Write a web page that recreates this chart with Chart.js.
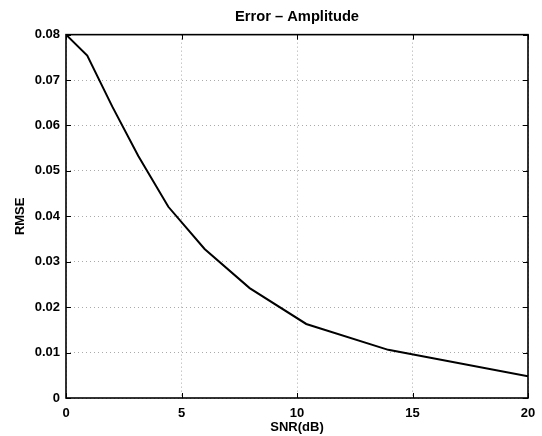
<!DOCTYPE html>
<html>
<head>
<meta charset="utf-8">
<script src="https://cdn.jsdelivr.net/npm/chart.js@4/dist/chart.umd.min.js"></script>
<style>
  html, body { margin: 0; padding: 0; background: #fff; }
  canvas { display: block; }
</style>
</head>
<body>
<canvas id="c" width="542" height="436"></canvas>
<script>
const snrDb = [0, 0.92, 2, 3.13, 4.43, 6, 7.95, 10.4, 13.95, 20];
const rmse = [0.0800, 0.0754, 0.0642, 0.0533, 0.0421, 0.0328, 0.0242, 0.0163, 0.0106, 0.0048];
const xTicks = [0, 5, 10, 15, 20];
const yTicks = [0, 0.01, 0.02, 0.03, 0.04, 0.05, 0.06, 0.07, 0.08];
const yTickLabels = ['0', '0.01', '0.02', '0.03', '0.04', '0.05', '0.06', '0.07', '0.08'];
const xTickLabels = ['0', '5', '10', '15', '20'];

Chart.defaults.color = '#000';
Chart.defaults.font.family = '"Liberation Sans", Arial, Helvetica, sans-serif';

const boxPlugin = {
  id: 'boxPlugin',
  afterDraw(chart) {
    const ctx = chart.ctx;
    const a = chart.chartArea;
    const xs = chart.scales.x, ys = chart.scales.y;
    ctx.save();
    ctx.strokeStyle = '#000';
    ctx.lineWidth = 1;
    const tl = 5;
    ctx.beginPath();
    xTicks.forEach(v => {
      const px = Math.round(xs.getPixelForValue(v)) + 0.5;
      ctx.moveTo(px, a.bottom); ctx.lineTo(px, a.bottom - tl);
      ctx.moveTo(px, a.top); ctx.lineTo(px, a.top + tl);
    });
    yTicks.forEach(v => {
      const py = Math.round(ys.getPixelForValue(v)) + 0.5;
      ctx.moveTo(a.left, py); ctx.lineTo(a.left + tl, py);
      ctx.moveTo(a.right, py); ctx.lineTo(a.right - tl, py);
    });
    ctx.stroke();
    ctx.lineWidth = 1.6;
    ctx.strokeRect(a.left, a.top, a.right - a.left, a.bottom - a.top);
    ctx.restore();
  }
};

new Chart(document.getElementById('c'), {
  type: 'line',
  data: {
    datasets: [{
      data: snrDb.map((x, i) => ({ x: x, y: rmse[i] })),
      borderColor: '#000',
      borderWidth: 2,
      pointRadius: 0,
      tension: 0,
      fill: false
    }]
  },
  options: {
    responsive: false,
    animation: false,
    devicePixelRatio: 1,
    layout: { padding: { left: 0, right: 14, top: 0, bottom: 0 } },
    plugins: {
      legend: { display: false },
      tooltip: { enabled: false },
      title: {
        display: true,
        text: 'Error \u2013 Amplitude',
        fullSize: false,
        font: { size: 14.7, weight: 'bold' },
        color: '#000',
        padding: { top: 8, bottom: 9 }
      }
    },
    scales: {
      x: {
        type: 'linear',
        min: 0, max: 20,
        afterBuildTicks(s) { s.ticks = xTicks.map(v => ({ value: v })); },
        afterFit(s) { s.height = 38; s.paddingRight = 7; s.paddingLeft = 4; },
        ticks: {
          font: { size: 13, weight: 'bold' },
          padding: 8,
          maxRotation: 0,
          callback: (v) => xTickLabels[xTicks.indexOf(v)]
        },
        grid: { color: '#aaa', lineWidth: 1, drawTicks: false },
        border: { display: false, dash: [1, 3] },
        title: {
          display: true,
          text: 'SNR(dB)',
          font: { size: 13, weight: 'bold' },
          padding: { top: 0, bottom: 1 }
        }
      },
      y: {
        type: 'linear',
        min: 0, max: 0.08,
        afterBuildTicks(s) { s.ticks = yTicks.map(v => ({ value: v })); },
        afterFit(s) { s.width = 66; },
        ticks: {
          font: { size: 13, weight: 'bold' },
          padding: 6,
          callback: (v) => {
            const i = yTicks.findIndex(t => Math.abs(t - v) < 1e-9);
            return i >= 0 ? yTickLabels[i] : '';
          }
        },
        grid: { color: '#aaa', lineWidth: 1, drawTicks: false },
        border: { display: false, dash: [1, 3] },
        title: {
          display: true,
          text: 'RMSE',
          font: { size: 13, weight: 'bold' },
          padding: { top: 13, bottom: 0 }
        }
      }
    }
  },
  plugins: [boxPlugin]
});
</script>
</body>
</html>
